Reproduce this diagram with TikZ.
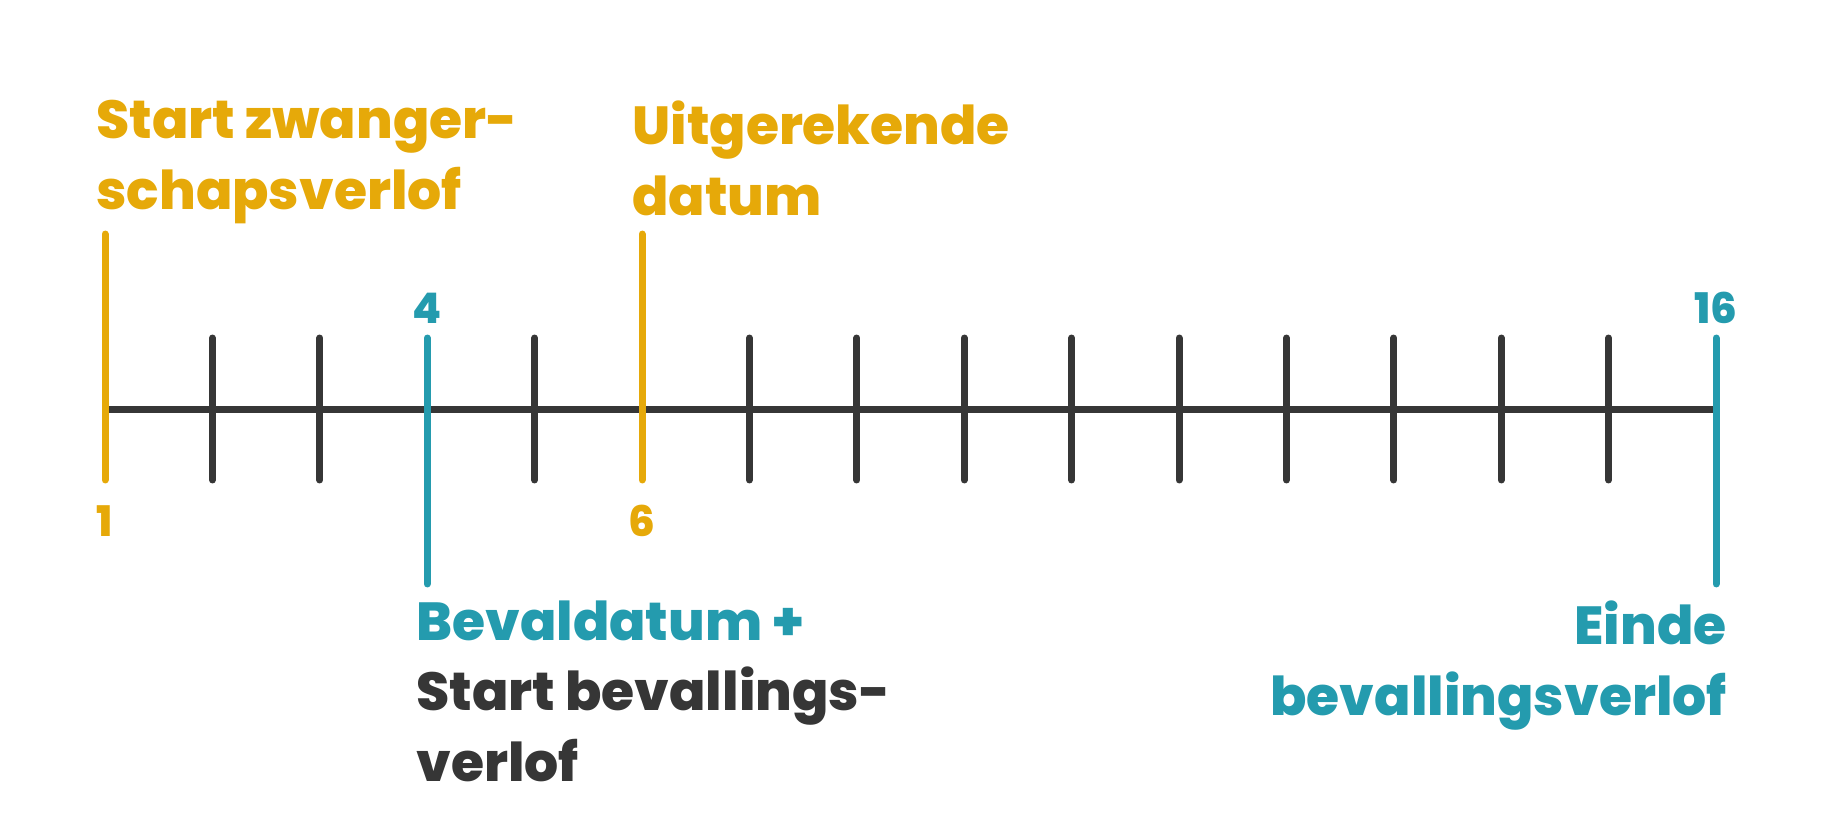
\documentclass[tikz,border=0pt]{standalone}
\usepackage{fontspec}
\setmainfont{Poppins}
\newfontfamily\heavy{Poppins ExtraBold}
\usetikzlibrary{positioning}
\definecolor{vgold}{HTML}{E6A909}
\definecolor{vteal}{HTML}{249BAE}
\definecolor{vdark}{HTML}{363636}
\tikzset{
  mtick/.style={draw=vdark,line width=0.14cm,line cap=round},
  gtick/.style={mtick,draw=vgold},
  ttick/.style={mtick,draw=vteal},
  lbl/.style={font=\heavy\fontsize{30.5}{40.4}\selectfont,inner sep=0pt},
  num/.style={font=\heavy\fontsize{24}{24}\selectfont,inner sep=0pt,anchor=base},
}
\begin{document}
\begin{tikzpicture}[x=0.02cm,y=-0.02cm]
  \useasboundingbox (0,0) rectangle (1838,838);
  \foreach \ix in {1,...,16} \coordinate (t\ix) at (105+107.4*\ix-107.4,409);
  \draw[mtick,line cap=butt] (t1) -- (t16);
  \foreach \ix in {2,3,5,7,8,...,15} \draw[mtick] ([yshift=1.42cm]t\ix) -- ([yshift=-1.42cm]t\ix);
  \foreach \ix in {1,6} \draw[gtick] ([yshift=3.5cm]t\ix) -- ([yshift=-1.42cm]t\ix);
  \foreach \ix in {4,16} \draw[ttick] ([yshift=1.42cm]t\ix) -- ([yshift=-3.5cm]t\ix);
  \node[num,text=vgold] (n1) at (105,536) {1};
  \node[num,text=vteal] (n4) at (427,323) {4};
  \node[num,text=vgold] (n6) at (642,536) {6};
  \node[num,text=vteal] (n16) at (1716,323) {16};
  \node[lbl,anchor=north west,align=left,text=vgold] (zw) at (96,100) {Start zwanger-\\schapsverlof};
  \node[lbl,anchor=north west,align=left,text=vgold] (ud) at (632,100) {Uitgerekende\\datum};
  \node[lbl,anchor=north west,align=left,text=vdark] (bd) at (416,600) {\textcolor{vteal}{Bevaldatum +}\\Start bevallings-\\verlof};
  \node[lbl,anchor=north east,align=right,text=vteal] (eb) at (1727,600) {Einde\\bevallingsverlof};
\end{tikzpicture}
\end{document}
